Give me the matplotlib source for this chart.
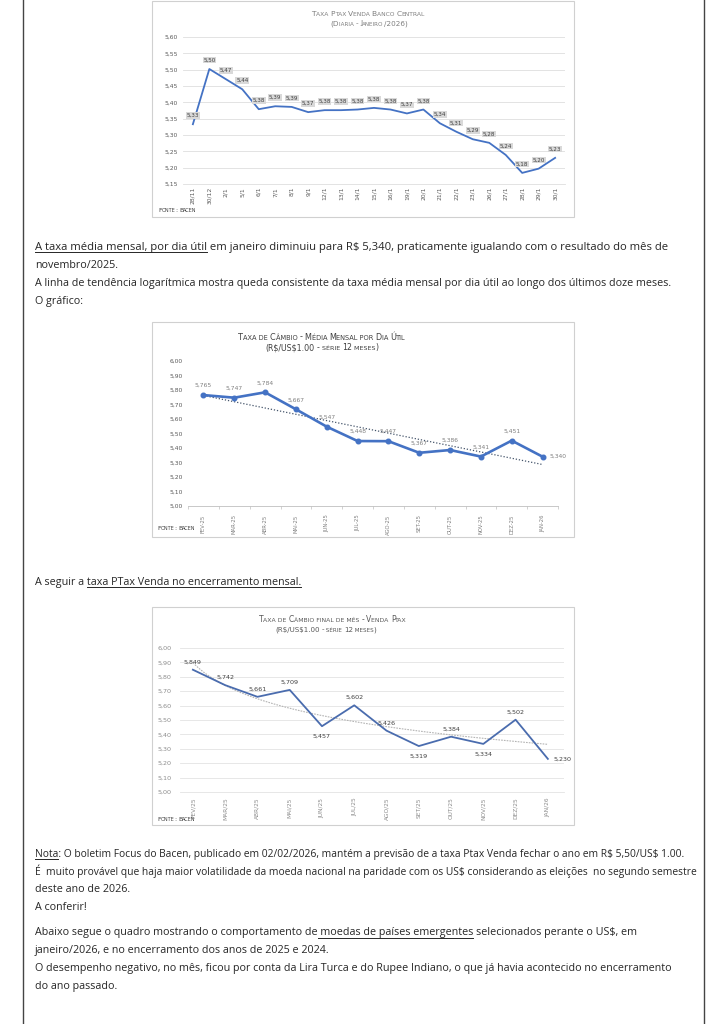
import numpy as np
import matplotlib
matplotlib.use('Agg')
import matplotlib.pyplot as plt
from matplotlib.transforms import IdentityTransform
from matplotlib.lines import Line2D
from matplotlib.patches import Rectangle
from matplotlib.ticker import FuncFormatter

# ---------------- data ----------------
daily_dates = ['28/11', '30/12', '2/1', '5/1', '6/1', '7/1', '8/1', '9/1', '12/1', '13/1',
               '14/1', '15/1', '16/1', '19/1', '20/1', '21/1', '22/1', '23/1', '26/1',
               '27/1', '28/1', '29/1', '30/1']
daily_ptax = [5.333, 5.502, 5.471, 5.440, 5.379, 5.388, 5.386, 5.370, 5.376, 5.376,
              5.378, 5.383, 5.378, 5.366, 5.378, 5.336, 5.310, 5.287, 5.276,
              5.239, 5.184, 5.197, 5.230]

avg_months = ['FEV-25', 'MAR-25', 'ABR-25', 'MAI-25', 'JUN-25', 'JUL-25', 'AGO-25',
              'SET-25', 'OUT-25', 'NOV-25', 'DEZ-25', 'JAN-26']
monthly_avg = [5.765, 5.747, 5.784, 5.667, 5.547, 5.448, 5.447, 5.367, 5.386, 5.341, 5.451, 5.340]

end_months = ['FEV/25', 'MAR/25', 'ABR/25', 'MAI/25', 'JUN/25', 'JUL/25', 'AGO/25',
              'SET/25', 'OUT/25', 'NOV/25', 'DEZ/25', 'JAN/26']
month_end = [5.849, 5.742, 5.661, 5.709, 5.457, 5.602, 5.426, 5.319, 5.384, 5.334, 5.502, 5.230]
month_end_label_side = ['above', 'above', 'above', 'above', 'below', 'above', 'above',
                        'below', 'above', 'below', 'above', 'right']

# ---------------- page setup ----------------
W, H = 724, 1024
fig = plt.figure(figsize=(W / 100, H / 100), dpi=100)
fig.patch.set_facecolor('white')
renderer = fig.canvas.get_renderer()
ID = IdentityTransform()
PAGE_FONT = 'Open Sans'
CHART_FONT = 'DejaVu Sans'
TEXT_COLOR = '#262626'


def esc(s):
    return s.replace('$', r'\$')


def measure(s, **kw):
    t = fig.text(0, 0, esc(s), transform=ID, **kw)
    w = t.get_window_extent(renderer).width
    t.remove()
    return w


def adv(s, **kw):
    """advance width of s (robust to spaces and side bearings)"""
    if s == '':
        return 0.0
    return measure('|' + s + '|', **kw) - measure('||', **kw)


def px_ax(left, top, right, bottom):
    return fig.add_axes([left / W, 1 - bottom / H, (right - left) / W, (bottom - top) / H])


def smallcaps_runs(text, big, small):
    runs = []
    for ch in text:
        if ch.islower() or ch == ' ':
            seg, size = ch.upper(), small
        else:
            seg, size = ch, big
        if runs and runs[-1][1] == size:
            runs[-1][0] += seg
        else:
            runs.append([seg, size])
    return runs


def draw_smallcaps(x, y, text, big, small, color, ha='center', weight='normal'):
    runs = smallcaps_runs(text, big, small)
    widths = [adv(t, fontsize=s, family=CHART_FONT, weight=weight) for t, s in runs]
    total = sum(widths)
    x0 = x - total / 2 if ha == 'center' else x
    for (t, s), w in zip(runs, widths):
        if t.strip():
            fig.text(x0, H - y, esc(t), transform=ID, fontsize=s, family=CHART_FONT,
                     color=color, va='baseline', ha='left', weight=weight)
        x0 += w


def para_line(x, y, runs, fs, end_x=None):
    if isinstance(runs, str):
        runs = [(runs, False)]
    full = ''.join(r[0] for r in runs)
    if end_x is not None:
        fs = 10 * (end_x - x) / adv(full, fontsize=10, family=PAGE_FONT)
    kw = dict(fontsize=fs, family=PAGE_FONT)
    fig.text(x, H - y, esc(full), transform=ID, va='baseline', ha='left',
             color=TEXT_COLOR, **kw)
    pos = 0
    for text, ul in runs:
        if ul:
            xs = x + adv(full[:pos], **kw)
            xe = x + adv(full[:pos + len(text)], **kw)
            fig.add_artist(Line2D([xs, xe], [H - y - 2, H - y - 2], transform=ID,
                                  color=TEXT_COLOR, lw=0.7))
        pos += len(text)


def box(left, top, right, bottom):
    fig.add_artist(Rectangle((left, H - bottom), right - left, bottom - top, transform=ID,
                             fill=False, ec='#d0d0d0', lw=0.8))


comma2 = lambda v: f'{v:.2f}'.replace('.', ',')
comma3 = lambda v: f'{v:.3f}'.replace('.', ',')

# page borders
for xb in (22.5, 703.5):
    fig.add_artist(Line2D([xb, xb], [0, H], transform=ID, color='#444444', lw=1.0))

# ---------------- chart 1: daily ptax ----------------
box(152, 1, 574, 217)
draw_smallcaps(368, 16.5, 'Taxa Ptax Venda Banco Central', 5.4, 4.3, '#7f7f7f')
draw_smallcaps(369, 25.5, '(Diaria - Janeiro/2026)', 5.2, 4.1, '#7f7f7f')
ax1 = px_ax(183, 37, 565, 184)
x1 = np.arange(len(daily_dates))
ax1.plot(x1, daily_ptax, color='#4472C4', lw=1.3, zorder=3)
ax1.set_xlim(-0.6, len(daily_dates) - 1 + 0.6)
ax1.set_ylim(5.15, 5.60)
ax1.set_yticks(np.round(np.arange(5.15, 5.601, 0.05), 2))
ax1.yaxis.set_major_formatter(FuncFormatter(lambda v, p: comma2(v)))
ax1.grid(axis='y', color='#dedede', lw=0.6)
ax1.set_axisbelow(True)
for s in ['top', 'right', 'left']:
    ax1.spines[s].set_visible(False)
ax1.spines['bottom'].set_color('#dedede')
ax1.spines['bottom'].set_linewidth(0.6)
ax1.tick_params(axis='y', length=0, labelsize=4.3, labelcolor='#595959', pad=3.5)
ax1.set_xticks(x1)
ax1.set_xticklabels(daily_dates, rotation=90, fontsize=4.3, color='#595959')
ax1.tick_params(axis='x', length=0, pad=2)
for xi, v in zip(x1, daily_ptax):
    ax1.annotate(comma2(v), (xi, v), xytext=(0, 6.3), textcoords='offset points',
                 ha='center', va='center', fontsize=4.1, color='#404040', zorder=4,
                 bbox=dict(boxstyle='square,pad=0.12', fc='#d9d9d9', ec='none'))
draw_smallcaps(158, 212, 'Fonte: Bacen', 4.5, 3.6, '#404040', ha='left')

# ---------------- page text ----------------
ref_line = ('A linha de tendência logarítmica mostra queda consistente da taxa média mensal '
            'por dia útil ao longo dos últimos doze meses.')
PAGE_FS = 10 * 637 / adv(ref_line, fontsize=10, family=PAGE_FONT)
TX = 35
para_line(TX, 250, [('A taxa média mensal, por dia útil', True),
                    (' em janeiro diminuiu para R$ 5,340, praticamente igualando com o resultado do mês de', False)],
          PAGE_FS, end_x=666)
para_line(TX, 268, 'novembro/2025.', PAGE_FS)
para_line(TX, 286, ref_line, PAGE_FS)
para_line(TX, 304, 'O gráfico:', PAGE_FS)

# ---------------- chart 2: monthly average ----------------
box(152, 322, 574, 537)
draw_smallcaps(322, 339.5, 'Taxa de Câmbio - Média Mensal por Dia Útil', 5.9, 4.8, '#404040')
draw_smallcaps(322, 350, '(R$/US$1.00 - série 12 meses)', 5.7, 4.6, '#404040')
ax2 = px_ax(188, 361, 558, 506)
x2 = np.arange(1, len(monthly_avg) + 1)
coef2 = np.polyfit(x2, monthly_avg, 1)
ax2.plot(x2, np.polyval(coef2, x2), color='#44546A', lw=0.9, ls=(0, (1, 1.5)), zorder=2)
ax2.plot(x2, monthly_avg, color='#4472C4', lw=1.9, marker='o', ms=3.3, zorder=3)
ax2.set_xlim(0.5, len(monthly_avg) + 0.5)
ax2.set_ylim(5.0, 6.0)
ax2.set_yticks(np.round(np.arange(5.0, 6.001, 0.1), 2))
ax2.yaxis.set_major_formatter(FuncFormatter(lambda v, p: comma2(v)))
for s in ['top', 'right', 'left']:
    ax2.spines[s].set_visible(False)
ax2.spines['bottom'].set_color('#bfbfbf')
ax2.spines['bottom'].set_linewidth(0.6)
ax2.tick_params(axis='y', length=0, labelsize=4.3, labelcolor='#595959', pad=3.5)
ax2.set_xticks(x2)
ax2.set_xticklabels(avg_months, rotation=90, fontsize=3.8, color='#7f7f7f')
ax2.set_xticks(np.arange(0.5, len(monthly_avg) + 0.6, 1), minor=True)
ax2.tick_params(axis='x', which='major', length=0, pad=6)
ax2.tick_params(axis='x', which='minor', length=2, color='#bfbfbf', width=0.5)
for i, (xi, v) in enumerate(zip(x2, monthly_avg)):
    if i == len(monthly_avg) - 1:
        ax2.annotate(comma3(v), (xi, v), xytext=(5, 0), textcoords='offset points',
                     ha='left', va='center', fontsize=4.3, color='#7f7f7f')
    else:
        ax2.annotate(comma3(v), (xi, v), xytext=(0, 6.8), textcoords='offset points',
                     ha='center', va='center', fontsize=4.3, color='#7f7f7f')
draw_smallcaps(157, 530.5, 'Fonte: Bacen', 4.5, 3.6, '#404040', ha='left')

para_line(TX, 584.5, [('A seguir a ', False), ('taxa PTax Venda no encerramento mensal.', True)], PAGE_FS)

# ---------------- chart 3: month-end ptax ----------------
box(152, 607, 574, 825)
draw_smallcaps(333, 622.5, 'Taxa de Câmbio final de mês - Venda Ptax', 5.5, 4.4, '#595959')
draw_smallcaps(326, 631.5, '(R$/US$1.00 - série 12 meses)', 5.1, 4.1, '#595959')
ax3 = px_ax(180, 648, 564, 792)
x3 = np.arange(1, len(month_end) + 1)
coef3 = np.polyfit(np.log(x3), month_end, 1)
xs3 = np.linspace(1, len(month_end), 200)
ax3.plot(xs3, np.polyval(coef3, np.log(xs3)), color='#b4b4b4', lw=0.8, ls=(0, (1.5, 1)), zorder=2)
ax3.plot(x3, month_end, color='#4a6cae', lw=1.3, zorder=3)
ax3.set_xlim(0.6, len(month_end) + 0.5)
ax3.set_ylim(5.0, 6.0)
ax3.set_yticks(np.round(np.arange(5.0, 6.001, 0.1), 2))
ax3.yaxis.set_major_formatter(FuncFormatter(lambda v, p: comma2(v)))
ax3.grid(axis='y', color='#e3e3e3', lw=0.6)
ax3.set_axisbelow(True)
for s in ['top', 'right', 'left']:
    ax3.spines[s].set_visible(False)
ax3.spines['bottom'].set_color('#e3e3e3')
ax3.spines['bottom'].set_linewidth(0.6)
ax3.tick_params(axis='y', length=0, labelsize=4.6, labelcolor='#8c8c8c', pad=6)
ax3.set_xticks(x3)
ax3.set_xticklabels(end_months, rotation=90, fontsize=4.2, color='#8c8c8c')
ax3.tick_params(axis='x', length=0, pad=4)
for xi, v, side in zip(x3, month_end, month_end_label_side):
    if side == 'above':
        off, ha = (0, 5.6), 'center'
    elif side == 'below':
        off, ha = (0, -7.2), 'center'
    else:
        off, ha = (4, 0), 'left'
    ax3.annotate(comma3(v), (xi, v), xytext=off, textcoords='offset points',
                 ha=ha, va='center', fontsize=4.6, color='#404040')
draw_smallcaps(157, 821, 'Fonte: Bacen', 4.5, 3.6, '#404040', ha='left')

# ---------------- closing text ----------------
para_line(TX, 856.5, [('Nota', True),
                      (': O boletim Focus do Bacen, publicado em 02/02/2026, mantém a previsão de a taxa Ptax Venda fechar o ano em R$ 5,50/US$ 1.00.', False)],
          PAGE_FS, end_x=683)
para_line(TX, 874.5, 'É  muito provável que haja maior volatilidade da moeda nacional na paridade com os US$ considerando as eleições  no segundo semestre',
          PAGE_FS, end_x=697)
para_line(TX, 892.5, 'deste ano de 2026.', PAGE_FS)
para_line(TX, 909.5, 'A conferir!', PAGE_FS)
para_line(TX, 935.5, [('Abaixo segue o quadro mostrando o comportamento de', False),
                      (' moedas de países emergentes', True),
                      (' selecionados perante o US$, em', False)], PAGE_FS, end_x=636)
para_line(TX, 953.5, 'janeiro/2026, e no encerramento dos anos de 2025 e 2024.', PAGE_FS)
para_line(TX, 971.5, 'O desempenho negativo, no mês, ficou por conta da Lira Turca e do Rupee Indiano, o que já havia acontecido no encerramento',
          PAGE_FS, end_x=674)
para_line(TX, 989.5, 'do ano passado.', PAGE_FS)

fig.savefig('out.png', dpi=100, facecolor='white')
